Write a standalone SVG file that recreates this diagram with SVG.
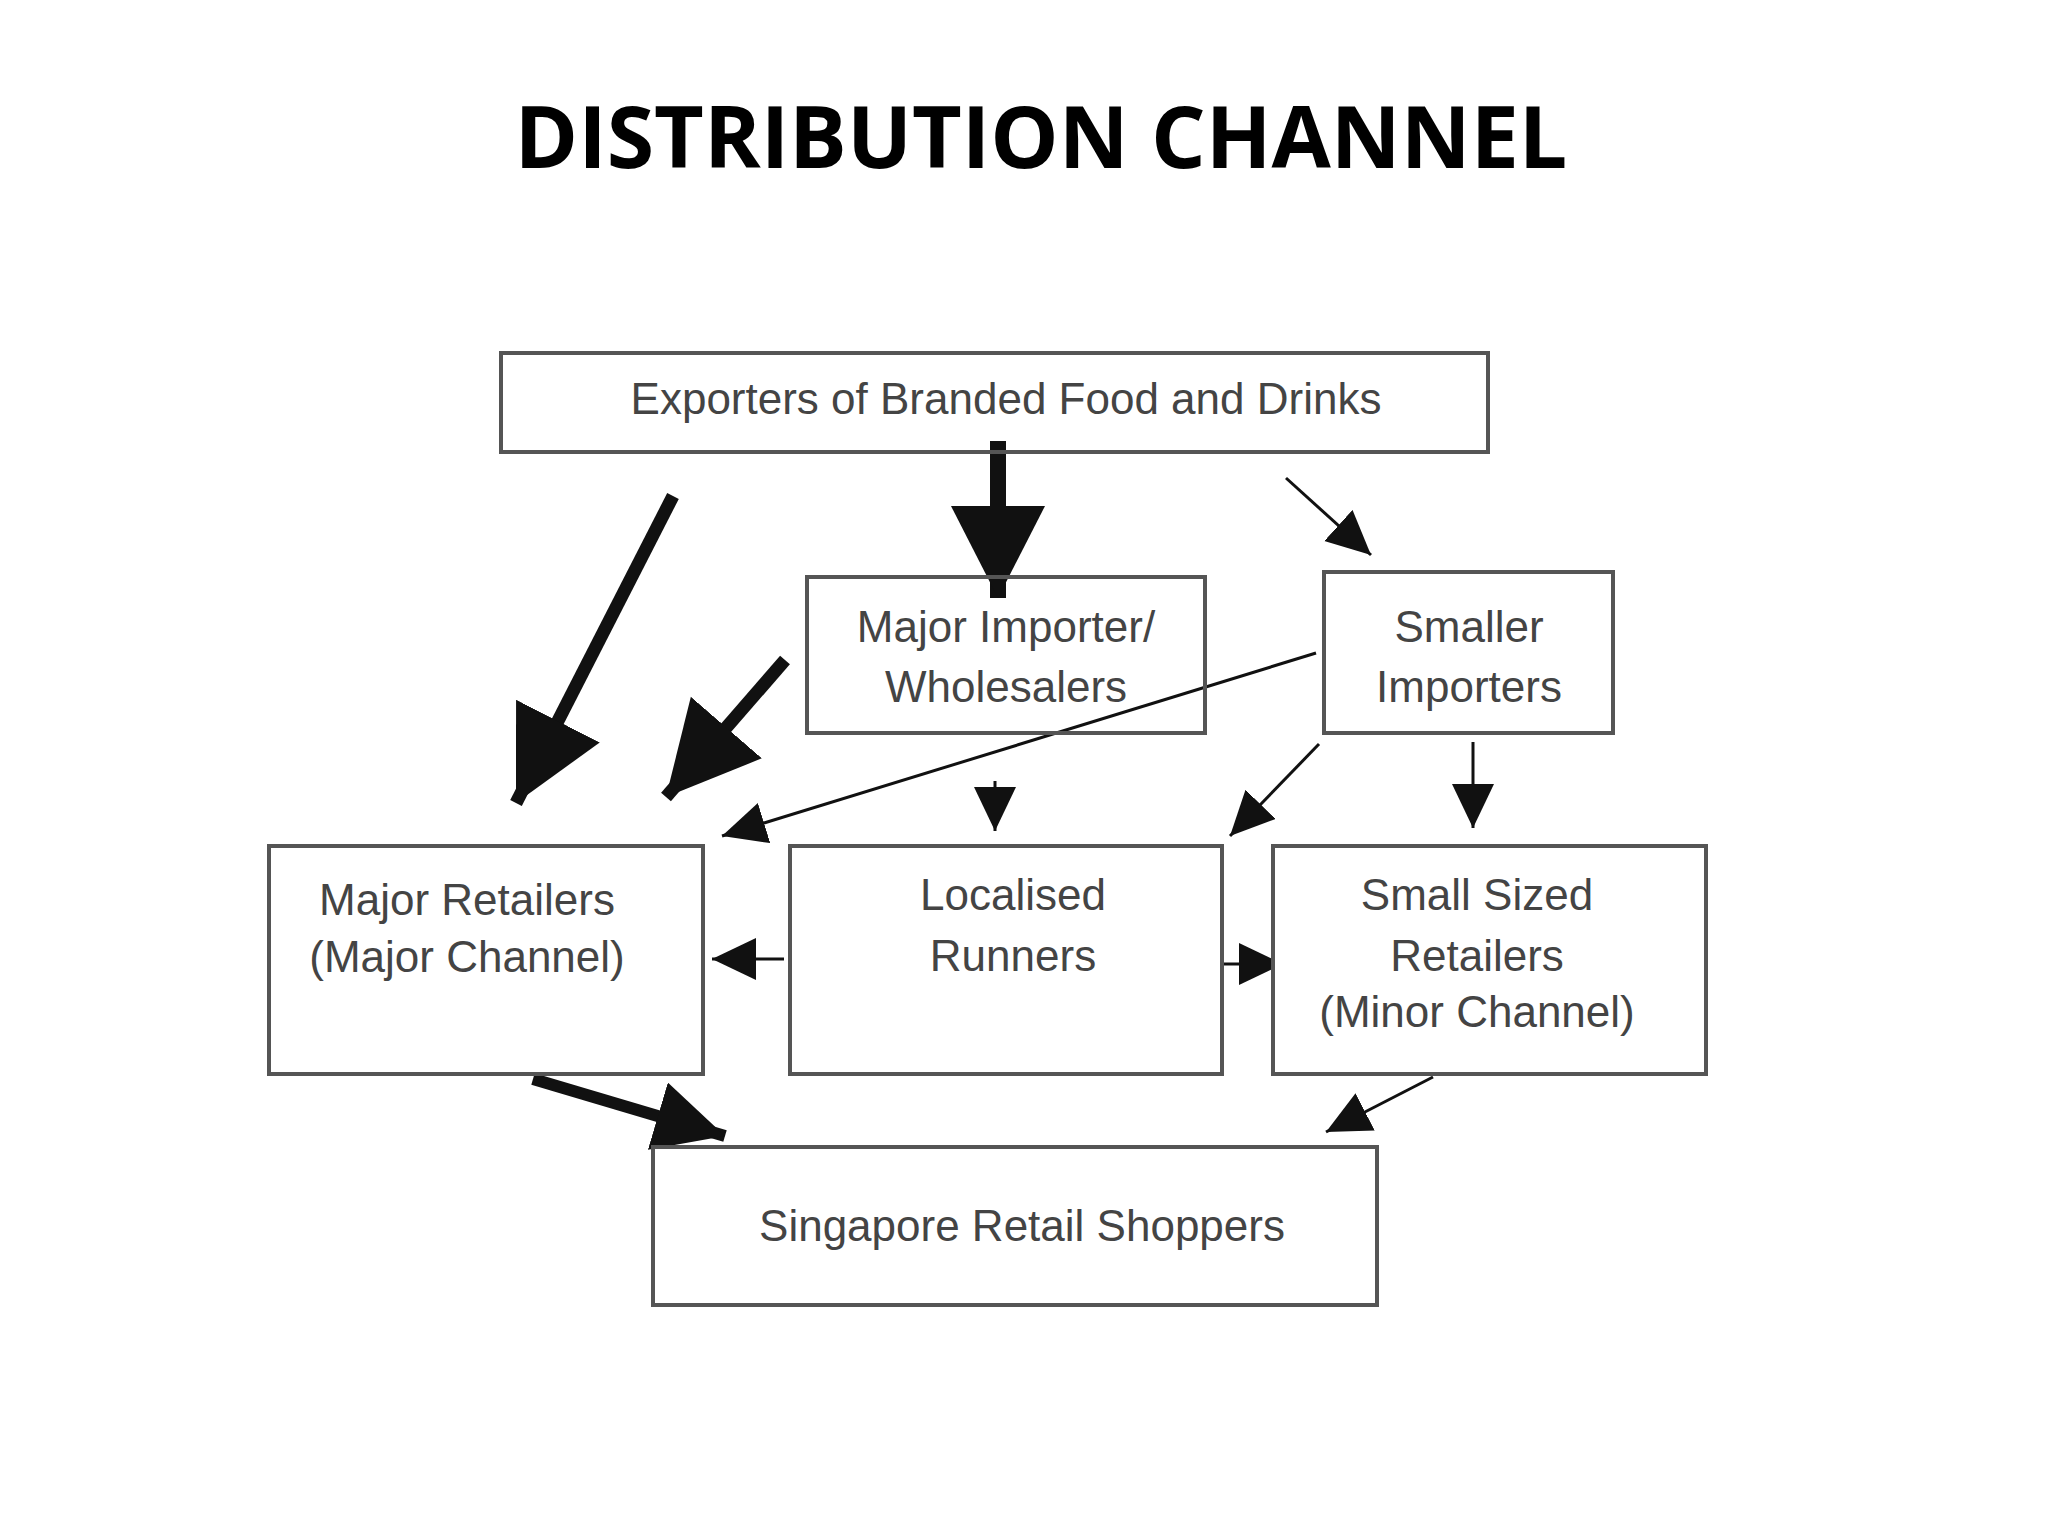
<svg xmlns="http://www.w3.org/2000/svg" width="2048" height="1536" viewBox="0 0 2048 1536">
<style>
.box{fill:#fff;stroke:#555;stroke-width:4}
.t{font-family:"Liberation Sans",Arial,sans-serif;font-size:44px;fill:#444;text-anchor:middle}
.title{font-family:"Open Sans","Liberation Sans",sans-serif;font-weight:bold;font-size:86px;fill:#000;text-anchor:middle}
.c{stroke:#111;fill:none}
</style>
<defs>
<marker id="big" markerUnits="userSpaceOnUse" markerWidth="100" markerHeight="100" refX="92" refY="47" orient="auto"><path d="M0,0 L92,47 L0,94 z" fill="#111"/></marker>
<marker id="mid" markerUnits="userSpaceOnUse" markerWidth="80" markerHeight="80" refX="70" refY="35" orient="auto"><path d="M0,0 L70,35 L0,70 z" fill="#111"/></marker>
<marker id="sm" markerUnits="userSpaceOnUse" markerWidth="50" markerHeight="50" refX="44" refY="21" orient="auto"><path d="M0,0 L44,21 L0,42 z" fill="#111"/></marker>
</defs>
<rect width="2048" height="1536" fill="#fff"/>
<text class="title" x="1041" y="168">DISTRIBUTION CHANNEL</text>
<g id="connectors">
<line class="c" x1="998" y1="441" x2="998" y2="598" stroke-width="16" marker-end="url(#big)"/>
<line class="c" x1="1286" y1="478" x2="1371" y2="555" stroke-width="3" marker-end="url(#sm)"/>
<line class="c" x1="673" y1="496" x2="516" y2="803" stroke-width="13" marker-end="url(#big)"/>
<line class="c" x1="785" y1="660" x2="666" y2="797" stroke-width="13" marker-end="url(#big)"/>
<line class="c" x1="1316" y1="653" x2="722" y2="836" stroke-width="3" marker-end="url(#sm)"/>
<line class="c" x1="995" y1="781" x2="995" y2="831" stroke-width="3" marker-end="url(#sm)"/>
<line class="c" x1="1319" y1="744" x2="1230" y2="836" stroke-width="3" marker-end="url(#sm)"/>
<line class="c" x1="1473" y1="742" x2="1473" y2="828" stroke-width="3" marker-end="url(#sm)"/>
<line class="c" x1="784" y1="959" x2="712" y2="959" stroke-width="3" marker-end="url(#sm)"/>
<line class="c" x1="1224" y1="964" x2="1283" y2="964" stroke-width="3" marker-end="url(#sm)"/>
<line class="c" x1="533" y1="1079" x2="725" y2="1136" stroke-width="12" marker-end="url(#mid)"/>
<line class="c" x1="1433" y1="1077" x2="1326" y2="1132" stroke-width="3" marker-end="url(#sm)"/>
</g>
<g id="exporters"><rect class="box" x="501" y="353" width="987" height="99" style="fill:none"/><text class="t" x="1006" y="414">Exporters of Branded Food and Drinks</text></g>
<g id="major-importer"><rect class="box" x="807" y="577" width="398" height="156" style="fill:none"/><text class="t" x="1006" y="642">Major Importer/</text><text class="t" x="1006" y="702">Wholesalers</text></g>
<g id="smaller-importers"><rect class="box" x="1324" y="572" width="289" height="161"/><text class="t" x="1469" y="642">Smaller</text><text class="t" x="1469" y="702">Importers</text></g>
<g id="major-retailers"><rect class="box" x="269" y="846" width="434" height="228"/><text class="t" x="467" y="915">Major Retailers</text><text class="t" x="467" y="972">(Major Channel)</text></g>
<g id="localised-runners"><rect class="box" x="790" y="846" width="432" height="228"/><text class="t" x="1013" y="910">Localised</text><text class="t" x="1013" y="971">Runners</text></g>
<g id="small-sized"><rect class="box" x="1273" y="846" width="433" height="228"/><text class="t" x="1477" y="910">Small Sized</text><text class="t" x="1477" y="971">Retailers</text><text class="t" x="1477" y="1027">(Minor Channel)</text></g>
<g id="shoppers"><rect class="box" x="653" y="1147" width="724" height="158"/><text class="t" x="1022" y="1241">Singapore Retail Shoppers</text></g>
</svg>
